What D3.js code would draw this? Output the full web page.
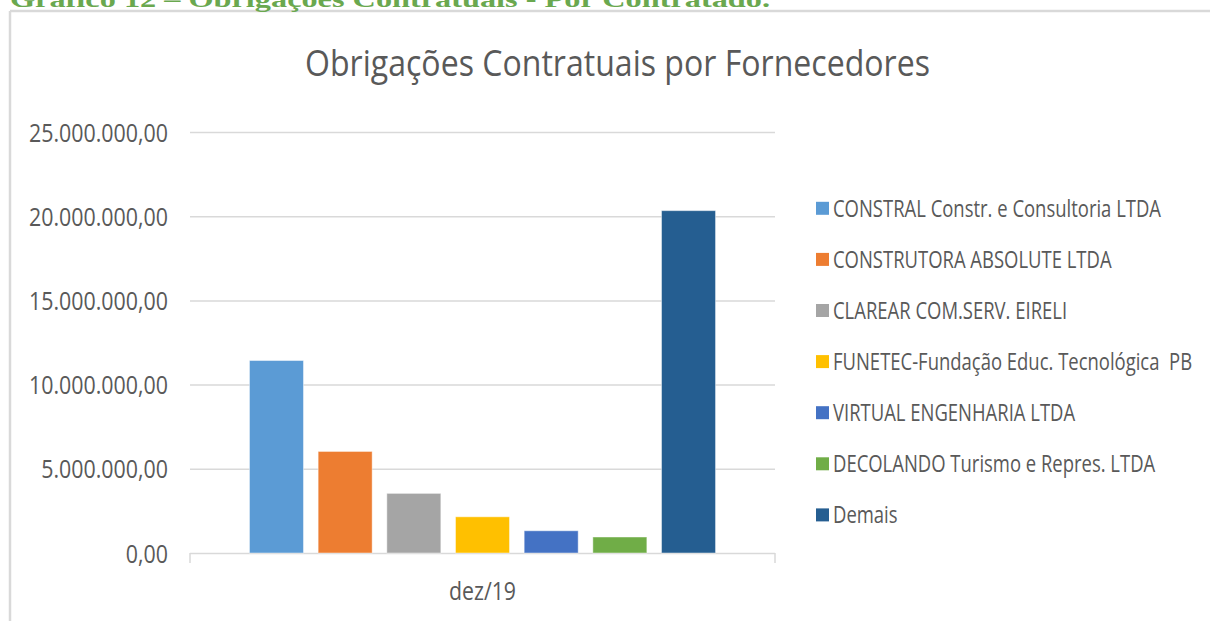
<!DOCTYPE html>
<html>
<head>
<meta charset="utf-8">
<script src="https://cdn.jsdelivr.net/npm/d3@7"></script>
<style>
  html, body { margin: 0; padding: 0; background: #fff; }
  svg { display: block; }
  text { font-family: "Open Sans", "Noto Sans", sans-serif; white-space: pre; }
</style>
</head>
<body>
<svg id="chart" width="1210" height="621"></svg>
<script>
// ---- data ----
const heading = "Gráfico 12 – Obrigações Contratuais - Por Contratado.";
const chartTitle = "Obrigações Contratuais por Fornecedores";
const categories = ["dez/19"];
const seriesNames = [
  "CONSTRAL Constr. e Consultoria LTDA",
  "CONSTRUTORA ABSOLUTE LTDA",
  "CLAREAR COM.SERV. EIRELI",
  "FUNETEC-Fundação Educ. Tecnológica  PB",
  "VIRTUAL ENGENHARIA LTDA",
  "DECOLANDO Turismo e Repres. LTDA",
  "Demais"
];
const seriesValues = [11430000, 6030000, 3540000, 2150000, 1320000, 950000, 20330000];
const seriesColors = ["#5B9BD5", "#ED7D31", "#A5A5A5", "#FFC000", "#4472C4", "#70AD47", "#255E91"];
const yTicks = [0, 5000000, 10000000, 15000000, 20000000, 25000000];

// ---- layout ----
const svg = d3.select("#chart");
const plot = { left: 190, right: 775, top: 132, bottom: 553 };
const textColor = "#595959";
const gridColor = "#d9d9d9";

const locale = d3.formatLocale({ decimal: ",", thousands: ".", grouping: [3], currency: ["R$", ""] });
const fmt = locale.format(",.2f");

function squeeze(sel, factor) {
  sel.each(function () {
    const len = this.getComputedTextLength();
    this.setAttribute("textLength", len * factor);
    this.setAttribute("lengthAdjust", "spacingAndGlyphs");
  });
}
function fitWidth(sel, width) {
  sel.attr("textLength", width).attr("lengthAdjust", "spacingAndGlyphs");
}

// frame
svg.append("line").attr("x1", 10).attr("x2", 1210).attr("y1", 11).attr("y2", 11)
  .attr("stroke", gridColor).attr("stroke-width", 2.5);
svg.append("line").attr("x1", 10).attr("x2", 10).attr("y1", 11).attr("y2", 621)
  .attr("stroke", gridColor).attr("stroke-width", 2.5);

// cut-off heading (the reference shows only its lower half)
svg.append("text").text(heading)
  .attr("x", 10).attr("y", 7)
  .style("fill", "#6AA84F")
  .style("font-family", "'Liberation Serif', 'DejaVu Serif', serif")
  .style("font-weight", "bold")
  .style("font-size", "24px")
  .call(fitWidth, 760);

// title
svg.append("text").text(chartTitle)
  .attr("x", 305).attr("y", 76)
  .style("fill", textColor)
  .style("font-size", "37px")
  .call(fitWidth, 625);

// scales
const y = d3.scaleLinear().domain([0, 25000000]).range([plot.bottom, plot.top]);
const x0 = d3.scaleBand().domain(categories).range([plot.left, plot.right]).padding(0);
const x1 = d3.scaleBand().domain(seriesNames).range([0, x0.bandwidth()])
  .paddingInner(0.2136).paddingOuter(0.866);

// gridlines
const grid = svg.append("g").attr("transform", `translate(${plot.left},0)`)
  .call(d3.axisLeft(y).tickValues(yTicks).tickSize(-(plot.right - plot.left)).tickFormat(""));
grid.select(".domain").remove();
grid.selectAll(".tick line").attr("stroke", gridColor).attr("stroke-width", 1.5);

// y axis labels
const yAxis = svg.append("g").attr("transform", `translate(168,0)`)
  .call(d3.axisLeft(y).tickValues(yTicks).tickSize(0).tickPadding(0).tickFormat(fmt));
yAxis.select(".domain").remove();
yAxis.selectAll(".tick text")
  .style("fill", textColor)
  .style("font-size", "25px")
  .style("font-family", "'Open Sans', sans-serif")
  .attr("dy", "0.36em");
{
  const widest = yAxis.selectAll(".tick text").nodes()
    .reduce((m, n) => Math.max(m, n.getComputedTextLength()), 0);
  yAxis.selectAll(".tick text").call(squeeze, 139 / widest);
}

// bars
const groups = svg.append("g").selectAll("g").data(categories).join("g")
  .attr("transform", d => `translate(${x0(d)},0)`);
groups.selectAll("rect")
  .data(() => seriesNames.map((name, i) => ({ name, value: seriesValues[i], color: seriesColors[i] })))
  .join("rect")
  .attr("x", d => x1(d.name))
  .attr("width", x1.bandwidth())
  .attr("y", d => y(d.value))
  .attr("height", d => y(0) - y(d.value))
  .attr("fill", d => d.color)
  .attr("stroke", "#ffffff").attr("stroke-opacity", 0.45).attr("stroke-width", 1);

// x axis (category) with boundary ticks
const xAxis = svg.append("g").attr("transform", `translate(0,${plot.bottom})`)
  .call(d3.axisBottom(x0).tickSize(0).tickPadding(0));
xAxis.select(".domain").remove();
xAxis.selectAll(".tick text")
  .style("fill", textColor)
  .style("font-size", "25px")
  .style("font-family", "'Open Sans', sans-serif")
  .attr("y", 47).attr("dy", 0)
  .call(fitWidth, 67);
xAxis.selectAll(".edge").data(x0.range()).join("line")
  .attr("class", "edge")
  .attr("x1", d => d).attr("x2", d => d)
  .attr("y1", 0).attr("y2", 10)
  .attr("stroke", gridColor).attr("stroke-width", 1.5);

// legend
const legendRowY = i => 208.3 + i * 51.1;
const legend = svg.append("g").selectAll("g").data(seriesNames).join("g")
  .attr("transform", (d, i) => `translate(816,${legendRowY(i)})`);
legend.append("rect")
  .attr("x", 0).attr("y", -6.5).attr("width", 13).attr("height", 13)
  .attr("fill", (d, i) => seriesColors[i]);
const legendText = legend.append("text")
  .text(d => d)
  .attr("x", 17).attr("y", 8.3)
  .style("fill", textColor)
  .style("font-size", "23px");
{
  const first = legendText.nodes()[0].getComputedTextLength();
  legendText.call(squeeze, 328 / first);
}
</script>
</body>
</html>
